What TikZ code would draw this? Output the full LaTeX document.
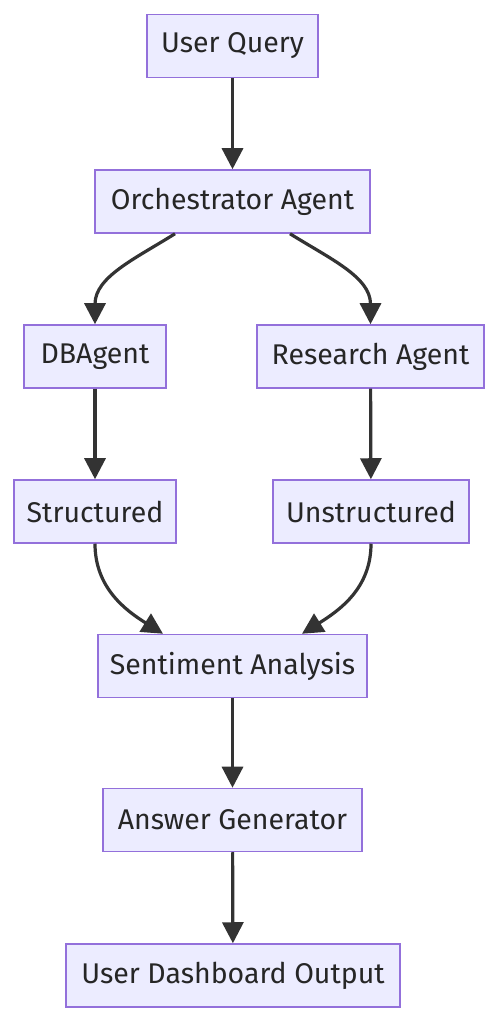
\documentclass[tikz,border=0pt]{standalone}
\usepackage{fontspec}
\setmainfont{Fira Sans}
\usepackage{xcolor}
\usepackage{tikz}
\usetikzlibrary{
    calc,
    arrows.meta
}
\definecolor{boxfill}{HTML}{ECECFF}
\definecolor{boxline}{HTML}{9370DB}
\definecolor{flowline}{HTML}{333333}
\tikzset{
    box/.style={draw=boxline, fill=boxfill, line width=1.5pt, inner sep=0pt,
        minimum height=63pt, text=black!85, font=\fontsize{28.5}{32}\selectfont},
    flow/.style={draw=flowline, line width=3.2pt,
        -{Triangle[width=21pt,length=21pt]}}
}

\begin{document}
\begin{tikzpicture}[x=1pt,y=1pt]
        \useasboundingbox (0,0) rectangle (499,1022);

        \draw (232.5,976) node[box, minimum width=171pt](query){User Query};
        \draw (232.5,820.5) node[box, minimum width=275pt](orch){Orchestrator Agent};
        \draw (95,665.5) node[box, minimum width=142pt](db){DBAgent};
        \draw (370.5,665.5) node[box, minimum width=227pt](research){Research Agent};
        \draw (95,510.5) node[box, minimum width=162pt](struct){Structured};
        \draw (371,510.5) node[box, minimum width=196pt](unstruct){Unstructured};
        \draw (232.5,356) node[box, minimum width=269pt](sentiment){Sentiment Analysis};
        \draw (232.5,202) node[box, minimum width=259pt](answer){Answer Generator};
        \draw (233,46.5) node[box, minimum width=334pt](dash){User Dashboard Output};

        \draw[flow] (query) to (orch);
        \draw[flow] ([xshift=-57.5pt]orch.south) to[out=-148, in=90] (db);
        \draw[flow] ([xshift=57.5pt]orch.south) to[out=-32, in=90] (research);
        \draw[flow] (db) to (struct);
        \draw[flow] (research) to (unstruct);
        \draw[flow] (struct) to[out=-90, in=148] ([xshift=-69.5pt]sentiment.north);
        \draw[flow] (unstruct) to[out=-90, in=32] ([xshift=69.5pt]sentiment.north);
        \draw[flow] (sentiment) to (answer);
        \draw[flow] (answer) to (dash);
    \end{tikzpicture}
\end{document}
